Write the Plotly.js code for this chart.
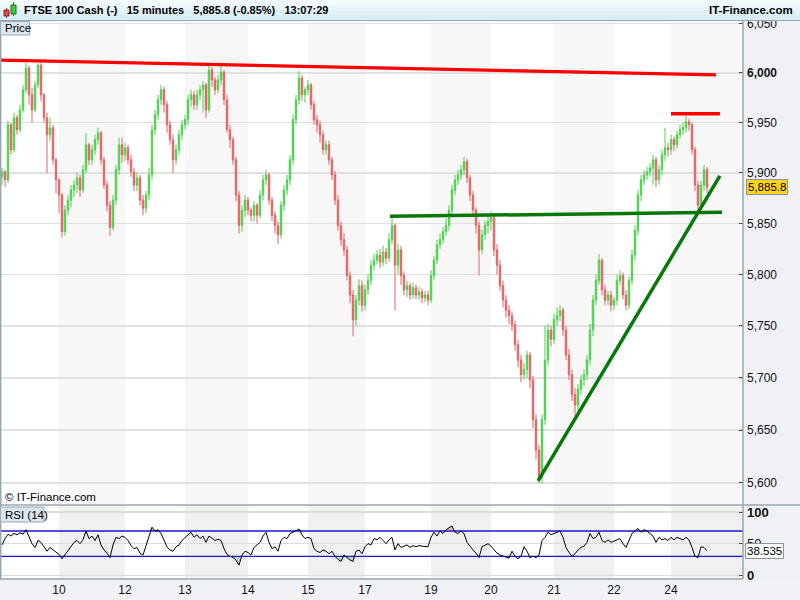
<!DOCTYPE html>
<html><head><meta charset="utf-8">
<script src="https://cdn.plot.ly/plotly-3.0.1.min.js"></script>
<style>html,body{margin:0;padding:0;background:#fff}#chart{width:800px;height:600px}</style>
</head><body><div id="chart"></div>
<script>
// ---- data (15-minute bars, in bar order) ----
const firstOpen = 5896;
const closes = [
5901,5893,5948,5923,5955,5943,5963,5983,6005,5978,5963,5988,6008,5978,5955,5938,5945,5913,5893,5878,
5842,5863,5873,5883,5888,5895,5883,5903,5928,5913,5923,5933,5940,5913,5888,5868,5846,5873,5903,5928,
5918,5925,5913,5901,5888,5895,5873,5865,5878,5898,5943,5958,5973,5983,5968,5948,5933,5913,5923,5938,
5948,5953,5973,5978,5968,5978,5983,5988,5963,6003,5993,5983,5993,6001,5973,5943,5933,5913,5878,5848,
5863,5873,5863,5858,5868,5858,5878,5893,5898,5873,5858,5848,5839,5868,5883,5893,5913,5953,5973,5995,
5978,5983,5988,5968,5953,5948,5938,5923,5928,5913,5898,5873,5848,5834,5824,5799,5780,5756,5775,5789,
5770,5785,5794,5809,5814,5819,5812,5822,5816,5834,5848,5809,5824,5799,5785,5789,5780,5787,5780,5783,
5777,5780,5775,5799,5814,5829,5834,5842,5848,5863,5883,5893,5898,5903,5911,5895,5878,5863,5848,5824,
5839,5848,5852,5856,5824,5809,5789,5775,5765,5760,5751,5732,5717,5703,5708,5722,5698,5660,5631,5605,
5660,5717,5746,5737,5756,5760,5765,5746,5722,5703,5684,5674,5689,5698,5703,5717,5746,5775,5794,5814,
5785,5775,5780,5770,5775,5794,5799,5780,5770,5794,5819,5843,5878,5893,5898,5901,5905,5913,5893,5903,
5918,5925,5923,5933,5928,5938,5943,5945,5951,5948,5923,5888,5868,5888,5903,5885.8
];
const highs = [
5905,5903,5952,5950,5960,5958,5968,5988,6010,6008,5985,5992,6010,6010,5980,5960,5955,5948,5915,5895,
5880,5868,5878,5888,5893,5900,5898,5908,5940,5930,5928,5938,5945,5942,5916,5892,5872,5878,5908,5935,
5935,5930,5928,5918,5905,5900,5898,5878,5882,5905,5948,5963,5978,5988,5986,5972,5952,5938,5928,5943,
5953,5958,5978,5983,5982,5983,5988,5992,5990,6008,6006,5996,5998,6008,6003,5978,5948,5936,5916,5882,
5868,5878,5876,5866,5872,5870,5883,5898,5903,5900,5876,5862,5852,5872,5888,5898,5918,5958,5978,6002,
5998,5986,5993,5990,5972,5958,5952,5942,5932,5932,5916,5902,5878,5852,5840,5828,5803,5785,5780,5795,
5794,5790,5800,5814,5820,5824,5825,5828,5826,5840,5858,5850,5830,5828,5803,5794,5792,5792,5790,5788,
5786,5784,5784,5804,5818,5834,5840,5846,5855,5868,5888,5898,5903,5908,5916,5914,5898,5882,5866,5852,
5844,5853,5858,5862,5860,5830,5814,5794,5780,5770,5764,5755,5736,5722,5714,5726,5725,5702,5665,5636,
5665,5750,5752,5750,5762,5768,5770,5768,5750,5728,5708,5690,5694,5703,5708,5722,5752,5780,5800,5820,
5816,5790,5784,5784,5778,5800,5804,5802,5785,5798,5824,5848,5883,5898,5903,5906,5910,5918,5916,5908,
5923,5945,5930,5938,5936,5942,5948,5950,5957,5954,5950,5926,5892,5892,5908,5906
];
const lows = [
5888,5886,5890,5918,5920,5938,5940,5960,5980,5968,5950,5960,5985,5972,5950,5900,5932,5908,5880,5860,
5836,5838,5858,5866,5876,5880,5876,5880,5900,5908,5908,5918,5928,5908,5884,5862,5838,5843,5868,5898,
5910,5912,5908,5896,5882,5882,5868,5858,5860,5873,5893,5938,5953,5968,5960,5940,5928,5900,5908,5918,
5933,5943,5948,5966,5963,5963,5973,5960,5955,5960,5986,5978,5980,5988,5968,5940,5925,5908,5872,5840,
5842,5856,5858,5852,5852,5850,5855,5873,5888,5868,5852,5840,5830,5835,5862,5878,5888,5908,5948,5968,
5972,5970,5978,5963,5948,5940,5930,5918,5918,5908,5893,5868,5843,5828,5818,5794,5772,5740,5750,5770,
5764,5765,5780,5790,5804,5810,5806,5808,5810,5812,5830,5765,5800,5790,5780,5778,5775,5776,5776,5775,
5772,5773,5770,5772,5795,5810,5825,5830,5838,5843,5858,5878,5888,5893,5898,5890,5872,5857,5840,5799,
5820,5834,5840,5843,5818,5800,5784,5768,5758,5752,5745,5726,5710,5696,5698,5700,5690,5652,5622,5600,
5600,5655,5712,5730,5732,5750,5755,5740,5717,5698,5678,5664,5668,5684,5692,5698,5712,5740,5770,5790,
5780,5770,5770,5764,5765,5770,5790,5776,5765,5766,5790,5814,5838,5872,5888,5893,5896,5888,5886,5888,
5898,5912,5916,5918,5922,5924,5934,5938,5940,5942,5918,5882,5862,5864,5882,5880
];
const rsi = [
48,58,65,62,66,64,67,65,72,60,50,44,55,52,44,38,44,40,37,33,
26,33,40,45,52,55,50,56,70,58,62,55,64,48,40,35,28,48,60,58,
62,60,55,47,42,44,35,32,48,60,76,70,72,66,55,45,40,38,45,48,
55,60,64,68,60,64,58,62,52,62,58,55,57,55,42,33,30,28,24,16,
32,38,36,32,44,48,52,62,68,52,42,45,38,55,60,58,66,68,70,73,
64,58,60,58,42,38,36,40,38,34,38,30,25,22,32,28,24,22,38,40,
34,45,50,48,58,56,60,55,50,56,60,40,50,44,46,48,44,47,45,47,
46,46,45,60,68,62,70,66,72,75,78,68,66,70,66,52,45,40,35,28,
45,48,50,46,40,35,32,30,28,27,38,30,26,30,45,38,28,30,28,32,
55,60,68,64,66,68,70,60,44,36,30,34,40,44,46,52,66,58,60,68,
55,52,56,52,54,56,58,50,44,55,66,70,74,68,72,70,66,62,52,60,
56,58,55,60,56,60,58,56,60,56,44,30,28,45,44,38.535
];
const dayLabels = ['10','12','13','14','15','17','19','20','21','22','24'];
const dayStart  = [19, 41, 61, 82, 102, 121, 143, 163, 184, 204, 223];
const priceTicks = [5600,5650,5700,5750,5800,5850,5900,5950,6000,6050];
const rsiTicks = [0, 50, 100];
const rsiLow = 30, rsiHigh = 70;
// hand-drawn trend lines (bar index, price)
const resistX = [-0.7, 238],  resistY = [6013, 5998];
const topX    = [223, 239.3], topY    = [5959, 5959];
const neckX   = [129.3, 240], neckY   = [5857, 5861];
const supX    = [178.7, 239.3], supY  = [5602, 5897];

// ---- build ----
const W = 743, H = 600;
const px = v => v / W, py = v => (H - v) / H;
const xs = closes.map((_, i) => i);
const opens = closes.map((c, i) => i === 0 ? firstOpen : closes[i - 1]);
const hi = highs.map((h, i) => Math.max(h, opens[i], closes[i]));
const lo = lows.map((l, i) => Math.min(l, opens[i], closes[i]));
const GREEN = '#4fcf4f', RED = '#e06464';
const fmt = v => v.toLocaleString('en-US');
const flat = v => xs.map(() => v);

const traces = [
  {type:'candlestick', x:xs, open:opens, high:hi, low:lo, close:closes,
   xaxis:'x', yaxis:'y', whiskerwidth:0,
   increasing:{line:{color:GREEN, width:1}, fillcolor:GREEN},
   decreasing:{line:{color:RED, width:1}, fillcolor:RED}, hoverinfo:'skip'},
  {type:'scatter', mode:'lines', x:resistX, y:resistY, line:{color:'#ff0000', width:3.3}, xaxis:'x', yaxis:'y'},
  {type:'scatter', mode:'lines', x:topX, y:topY, line:{color:'#ff0000', width:3.3}, xaxis:'x', yaxis:'y'},
  {type:'scatter', mode:'lines', x:neckX, y:neckY, line:{color:'#087808', width:3.5}, xaxis:'x', yaxis:'y'},
  {type:'scatter', mode:'lines', x:supX, y:supY, line:{color:'#087808', width:3.5}, xaxis:'x', yaxis:'y'},
  // RSI oversold / overbought fills
  {type:'scatter', mode:'lines', x:xs, y:flat(rsiLow), line:{width:0}, xaxis:'x', yaxis:'y2', hoverinfo:'skip'},
  {type:'scatter', mode:'lines', x:xs, y:rsi.map(r => Math.min(r, rsiLow)), line:{width:0}, fill:'tonexty',
   fillcolor:'rgba(120,190,120,0.45)', xaxis:'x', yaxis:'y2', hoverinfo:'skip'},
  {type:'scatter', mode:'lines', x:xs, y:flat(rsiHigh), line:{width:0}, xaxis:'x', yaxis:'y2', hoverinfo:'skip'},
  {type:'scatter', mode:'lines', x:xs, y:rsi.map(r => Math.max(r, rsiHigh)), line:{width:0}, fill:'tonexty',
   fillcolor:'rgba(220,120,120,0.45)', xaxis:'x', yaxis:'y2', hoverinfo:'skip'},
  {type:'scatter', mode:'lines', x:[-0.667, 247], y:[rsiLow, rsiLow], line:{color:'#1a1acc', width:1.3}, xaxis:'x', yaxis:'y2'},
  {type:'scatter', mode:'lines', x:[-0.667, 247], y:[rsiHigh, rsiHigh], line:{color:'#1a1acc', width:1.3}, xaxis:'x', yaxis:'y2'},
  {type:'scatter', mode:'lines', x:xs, y:rsi, line:{color:'#000', width:1}, xaxis:'x', yaxis:'y2'}
];

const shapes = [];
shapes.push({type:'rect', xref:'paper', yref:'paper', x0:1, x1:800/W, y0:0, y1:py(21), fillcolor:'#eff1f4', line:{width:0}, layer:'below'});
shapes.push({type:'rect', xref:'paper', yref:'paper', x0:0, x1:800/W, y0:0, y1:py(579), fillcolor:'#f0f2f5', line:{width:0}, layer:'below'});
for (let k = 0; k < dayStart.length; k += 2) {
  const x0 = dayStart[k], x1 = k + 1 < dayStart.length ? dayStart[k + 1] : 247;
  shapes.push({type:'rect', xref:'x', yref:'y domain', x0:x0, x1:x1, y0:0, y1:1, fillcolor:'#f7f7f7', line:{width:0}, layer:'below'});
  shapes.push({type:'rect', xref:'x', yref:'y2 domain', x0:x0, x1:x1, y0:0, y1:1, fillcolor:'#f0f0f0', line:{width:0}, layer:'below'});
}
const BC = '#9aa6b2';
shapes.push({type:'line', xref:'paper', yref:'paper', x0:1, x1:1, y0:py(579), y1:py(21), line:{color:BC, width:1.5}});
shapes.push({type:'line', xref:'paper', yref:'paper', x0:0, x1:800/W, y0:py(505), y1:py(505), line:{color:BC, width:1.5}});
shapes.push({type:'line', xref:'paper', yref:'paper', x0:0, x1:1, y0:py(579), y1:py(579), line:{color:BC, width:1.5}});
shapes.push({type:'line', xref:'paper', yref:'paper', x0:px(0.7), x1:px(0.7), y0:py(579), y1:py(21), line:{color:BC, width:1.5}});
const hdr = ['#f2fafd','#e8f5fa','#e0f1f7','#d8edf4'];
hdr.forEach((c, i) => shapes.push({type:'rect', xref:'paper', yref:'paper', x0:0, x1:800/W, y0:py(5*(i+1)), y1:py(5*i), fillcolor:c, line:{width:0}}));
shapes.push({type:'line', xref:'paper', yref:'paper', x0:0, x1:800/W, y0:py(20.5), y1:py(20.5), line:{color:BC, width:1.2}});
shapes.push({type:'line', xref:'paper', yref:'paper', x0:px(6.5), x1:px(6.5), y0:py(18), y1:py(8), line:{color:'#b03030', width:1}});
shapes.push({type:'rect', xref:'paper', yref:'paper', x0:px(4), x1:px(9), y0:py(16), y1:py(10), fillcolor:'#e04848', line:{color:'#902020', width:1}});
shapes.push({type:'line', xref:'paper', yref:'paper', x0:px(13.5), x1:px(13.5), y0:py(16), y1:py(2), line:{color:'#208020', width:1}});
shapes.push({type:'rect', xref:'paper', yref:'paper', x0:px(11), x1:px(16), y0:py(14), y1:py(5), fillcolor:'#38c838', line:{color:'#207020', width:1}});
shapes.push({type:'rect', xref:'paper', yref:'paper', x0:px(0.5), x1:px(29.5), y0:py(35), y1:py(21.5), fillcolor:'#dbe5ec', line:{color:'#9aaab8', width:1}});
shapes.push({type:'rect', xref:'paper', yref:'paper', x0:px(0.5), x1:px(44), y0:py(522), y1:py(507), fillcolor:'#dbe5ec', line:{color:'#9aaab8', width:1}});

const FONT = 'Liberation Sans, Arial, sans-serif';
const last = closes[closes.length - 1], lastRsi = rsi[rsi.length - 1];
const annotations = [
  {xref:'paper', yref:'paper', x:px(22), y:py(10.5), xanchor:'left', yanchor:'middle', showarrow:false,
   text:('<b>FTSE 100 Cash (-)   15 minutes   ' + fmt(last) + ' (-0.85%)   13:07:29</b>').replace(/ {3}/g, '&nbsp;&nbsp;&nbsp;'),
   font:{family:FONT, size:11, color:'#000'}},
  {xref:'paper', yref:'paper', x:px(795), y:py(10.5), xanchor:'right', yanchor:'middle', showarrow:false,
   text:'<b>IT-Finance.com</b>', font:{family:FONT, size:11.5, color:'#000'}},
  {xref:'paper', yref:'paper', x:px(3), y:py(28), xanchor:'left', yanchor:'middle', showarrow:false,
   text:'Price', font:{family:FONT, size:11.5, color:'#000'}},
  {xref:'paper', yref:'paper', x:px(3), y:py(514.5), xanchor:'left', yanchor:'middle', showarrow:false,
   text:'RSI (14)', font:{family:FONT, size:11.5, color:'#000'}},
  {xref:'paper', yref:'paper', x:px(3), y:py(497), xanchor:'left', yanchor:'middle', showarrow:false,
   text:'© IT-Finance.com', font:{family:FONT, size:11.5, color:'#000'}},
  {xref:'paper', yref:'y', x:px(746), y:Math.log10(last), xanchor:'left', yanchor:'middle', showarrow:false,
   text:fmt(last), bgcolor:'#ffd21a', bordercolor:'#8c96a0', borderwidth:1, borderpad:1,
   font:{family:FONT, size:11.5, color:'#000'}},
  {xref:'paper', yref:'y2', x:px(745), y:lastRsi, xanchor:'left', yanchor:'middle', showarrow:false,
   text:String(lastRsi), bgcolor:'#ffffff', bordercolor:'#8c96a0', borderwidth:1, borderpad:1,
   font:{family:FONT, size:11.5, color:'#000'}}
];

const layout = {
  width:800, height:600, margin:{l:0, r:57, t:0, b:0},
  paper_bgcolor:'#ffffff', plot_bgcolor:'#ffffff', showlegend:false,
  xaxis:{range:[-0.667, 247], anchor:'y2', domain:[0,1], tickmode:'array', tickvals:dayStart, ticktext:dayLabels,
    showgrid:false, zeroline:false, ticks:'', showline:false, rangeslider:{visible:false},
    tickfont:{family:FONT, size:12, color:'#111'}, ticklabelstandoff:3},
  yaxis:{domain:[py(504), py(22)], type:'log', range:[3.746652, 3.781878], side:'right', anchor:'x',
    tickmode:'array', tickvals:priceTicks,
    ticktext:priceTicks.map(v => v === 6000 ? '<b>' + fmt(v) + '</b>' : fmt(v)),
    ticks:'inside', ticklen:4, tickcolor:'#444', showgrid:true, gridcolor:'#e0e0e0', gridwidth:1.5,
    zeroline:false, showline:false, tickfont:{family:FONT, size:12, color:'#111'}, ticklabelstandoff:3},
  yaxis2:{domain:[py(578), py(506)], range:[-4.3, 109.5], side:'right', anchor:'x',
    tickmode:'array', tickvals:rsiTicks, ticktext:rsiTicks.map(v => v === 50 ? '50' : '<b>' + v + '</b>'),
    ticks:'inside', ticklen:4, tickcolor:'#444', showgrid:true, gridcolor:'#dcdcdc', gridwidth:1.2,
    zeroline:false, showline:false, tickfont:{family:FONT, size:13, color:'#111'}, ticklabelstandoff:3},
  shapes:shapes, annotations:annotations
};
Plotly.newPlot('chart', traces, layout, {staticPlot:true, displayModeBar:false});
</script></body></html>
